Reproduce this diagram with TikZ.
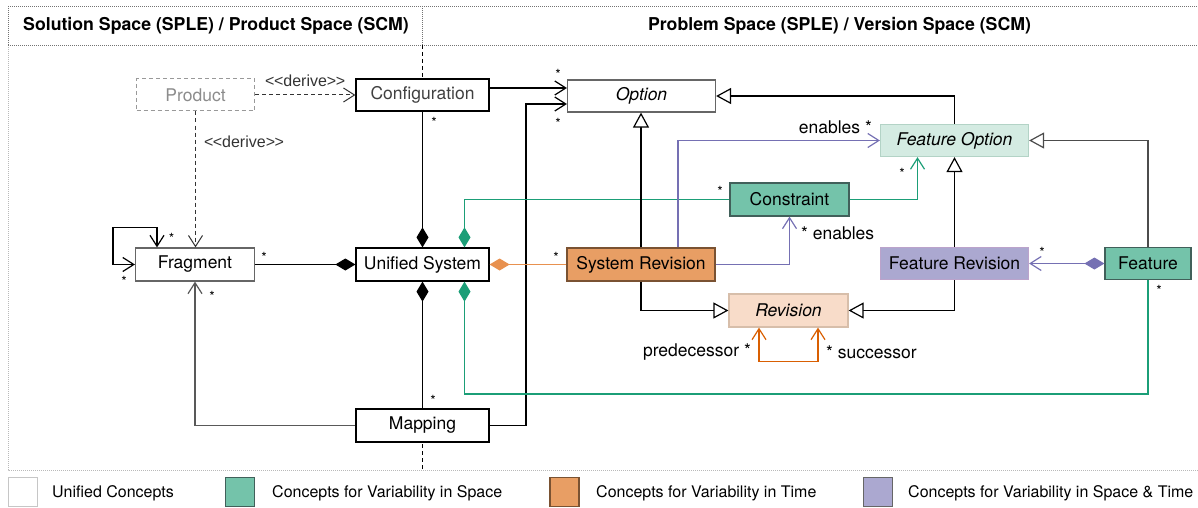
\documentclass[tikz,border=0pt]{standalone}
\usepackage{fontspec}
\setmainfont{TeX Gyre Heros}
\newfontfamily\myArial{Liberation Sans}
\usetikzlibrary{arrows.meta,calc}
\definecolor{tealline}{HTML}{1B9E77}
\definecolor{tealfill}{HTML}{74C3AA}
\definecolor{tealborder}{HTML}{41605A}
\definecolor{fofill}{HTML}{D4EBE2}
\definecolor{foborder}{HTML}{B3D3C6}
\definecolor{orfill}{HTML}{E89E64}
\definecolor{orborder}{HTML}{7A5232}
\definecolor{orline}{HTML}{E8914F}
\definecolor{orloop}{HTML}{D95F02}
\definecolor{revfill}{HTML}{F8DCC9}
\definecolor{revborder}{HTML}{D7BEAA}
\definecolor{puline}{HTML}{7570B3}
\definecolor{pufill}{HTML}{ABA8D0}
\definecolor{puborder}{HTML}{BBA3CB}
\newcommand\myNodeFont{\fontsize{17.5}{20}\selectfont}
\newcommand\myHdrFont{\fontsize{17.7}{20}\selectfont\bfseries}
\newcommand\myLegFont{\fontsize{16}{19}\selectfont}
\newcommand\myMulFont{\fontsize{14}{16}\selectfont}
\newcommand\myLblFont{\myArial\fontsize{16}{19}\selectfont}
\newcommand\myDerive{\mbox{<}\kern-0.5pt\mbox{<}derive\mbox{>}\kern-0.5pt\mbox{>}}
\tikzset{
  base/.style={draw, inner sep=0pt, line width=1.2pt, font=\myNodeFont, fill=white},
  wbox/.style={base, draw=black},
  barb/.tip={Straight Barb[length=11pt,width=14pt]},
  gen/.tip={Triangle[open,length=15pt,width=16pt,fill=white]},
  dia/.tip={Diamond[length=20pt,width=12pt]},
  conn/.style={line width=1.2pt},
  mul/.style={font=\myMulFont, inner sep=0pt},
  lbl/.style={font=\myNodeFont, inner sep=0pt},
  framel/.style={draw=gray!55, line width=0.9pt, dash pattern=on 1pt off 1pt},
  headl/.style={draw=gray!90!black, line width=0.9pt, dash pattern=on 1pt off 1pt},
  legbox/.style={draw, line width=1.2pt, minimum width=29pt, minimum height=29.5pt, inner sep=0pt},
  legtxt/.style={font=\myLegFont, anchor=west, inner sep=0pt},
}
\begin{document}
\begin{tikzpicture}[x=1pt,y=-1pt]
\useasboundingbox (0,0) rectangle (1198,508);
% frame
\draw[framel] (8,45) -- (8,470) -- (1198,470);
\draw[headl] (8,6) -- (1198,6);
\draw[headl] (8,45) -- (1198,45);
\draw[headl] (8,6) -- (8,45);
\draw[headl] (422.5,6) -- (422.5,45);
\draw[line width=1pt, dash pattern=on 4pt off 3pt] (422.5,45) -- (422.5,470);
\node[font=\myHdrFont, inner sep=0pt] (h1) at (216,25.5) {Solution Space (SPLE) / Product Space (SCM)};
\node[font=\myHdrFont, inner sep=0pt] (h2) at (839.5,25.5) {Problem Space (SPLE) / Version Space (SCM)};

% nodes
\node[base, draw=gray!80, text=gray!90, dash pattern=on 4pt off 3pt, line width=1pt, minimum width=118pt, minimum height=32pt] (product) at (195.5,95) {Product};
\node[wbox, text=black!75, minimum width=133pt, minimum height=32pt] (config) at (422.5,95) {Configuration};
\node[base, draw=black!60, minimum width=148pt, minimum height=32pt, font=\myNodeFont\itshape] (option) at (641.5,96) {Option};
\node[base, draw=foborder, fill=fofill, minimum width=148pt, minimum height=32pt, font=\myNodeFont\itshape] (fopt) at (954.5,140.5) {Feature Option};
\node[base, draw=tealborder, fill=tealfill, minimum width=119pt, minimum height=33pt] (constraint) at (789.5,199.5) {Constraint};
\node[base, draw=black!60, minimum width=119pt, minimum height=33pt] (fragment) at (195,264.5) {Fragment};
\node[wbox, minimum width=133pt, minimum height=33pt] (usys) at (422.5,264.5) {Unified System};
\node[base, draw=orborder, fill=orfill, minimum width=148pt, minimum height=33pt] (srev) at (641,264.5) {System Revision};
\node[base, draw=puborder, fill=pufill, minimum width=148pt, minimum height=32pt] (frev) at (954.5,263.5) {Feature Revision};
\node[base, draw=tealborder, fill=tealfill, minimum width=86pt, minimum height=32pt] (feature) at (1148,263.5) {Feature};
\node[base, draw=revborder, fill=revfill, minimum width=119pt, minimum height=33pt, font=\myNodeFont\itshape] (revision) at (788.5,310.5) {Revision};
\node[wbox, minimum width=133pt, minimum height=33pt] (mapping) at (422.5,425.5) {Mapping};

% derive
\draw[conn, line width=1pt, black!80, dash pattern=on 4pt off 3pt, -{barb}] (product.east) -- (config.west)
  node[midway, above=8pt, font=\myLblFont, inner sep=0pt] {\myDerive};
\draw[conn, line width=1pt, black!80, dash pattern=on 4pt off 3pt, -{barb}] (product.south) -- (product.south |- fragment.north)
  node[pos=0.22, right=8pt, font=\myLblFont, inner sep=0pt] {\myDerive};

% fragment self loop
\draw[conn, {barb}-{barb}] ($(fragment.north)+(-38,0)$) -- ++(0,-20) -| ($(fragment.west)+(-22,0)$) -- (fragment.west);
\node[mul] at (171.5,238) {*};
\node[mul] at (124,281) {*};

% compositions to unified system
\draw[conn, {dia}-] (usys.west) -- (fragment.east);
\node[mul] at (264,257) {*};
\draw[conn, {dia}-] (usys.north) -- (config.south);
\node[mul] at (434,122) {*};
\draw[conn, {dia}-] (usys.south) -- (mapping.north);
\node[mul] at (433,400) {*};

% configuration / mapping -> option
\draw[conn, -{barb}] (config.east |- 0,88) -- (option.west |- 0,88);
\node[mul] at (558,74) {*};
\coordinate (mo) at (526,104);
\draw[conn, -{barb}] (mapping.east) -| (mo) -- (option.west |- mo);
\node[mul] at (558,123) {*};

% mapping -> fragment
\draw[conn, black!65, -{barb}] (mapping.west) -| (fragment.south);
\node[mul] at (212,296) {*};

% unified system -- system revision
\draw[conn, orline, {dia}-] (usys.east) -- (srev.west);
\node[mul] at (556,257) {*};

% unified system -- constraint / feature (teal)
\draw[conn, tealline, {dia}-] ($(usys.north)+(42,0)$) |- (constraint.west);
\node[mul] at (720,191) {*};
\coordinate (tb) at (0,394);
\draw[conn, tealline, {dia}-] ($(usys.south)+(42,0)$) |- (tb -| feature.south) -- (feature.south);
\node[mul] at (1159,290) {*};

% generalizations
\draw[conn, -{gen}] (srev.north) -- (srev.north |- option.south);
\draw[conn, -{gen}] (srev.south) |- (revision.west);
\draw[conn, -{gen}] (fopt.north) |- (option.east);
\draw[conn, -{gen}] (frev.north) -- (fopt.south);
\draw[conn, -{gen}] (frev.south) |- (revision.east);
\draw[conn, black!70, -{gen}] (feature.north) |- (fopt.east);

% purple associations
\draw[conn, puline, -{barb}] ($(srev.north)+(37,0)$) |- (fopt.west);
\node[lbl, anchor=east] at (872,127) {enables *};
\draw[conn, puline, -{barb}] (srev.east) -| (constraint.south);
\node[lbl, anchor=west] at (801,233) {* enables};
\draw[conn, puline, {dia}-{barb}] (feature.west) -- (frev.east);
\node[mul] at (1042,252) {*};

% constraint -> feature option
\draw[conn, tealline, -{barb}] (constraint.east) -| ($(fopt.south)+(-37,0)$);
\node[mul] at (902,173) {*};

% revision self loop
\draw[conn, orloop, {barb}-{barb}] ($(revision.south)+(-29.5,0)$) -- ++(0,34) -| ($(revision.south)+(29.5,0)$);
\node[lbl, anchor=east] at (751,352) {predecessor *};
\node[lbl, anchor=west] at (826,352) {* successor};

% legend
\node[legbox, draw=gray!45, fill=white] (lg1) at (23,492) {};
\node[legtxt] (lt1) at (52,493) {Unified Concepts};
\node[legbox, draw=tealborder, fill=tealfill] (lg2) at (240,492) {};
\node[legtxt] (lt2) at (272,493) {Concepts for Variability in Space};
\node[legbox, draw=orborder, fill=orfill] (lg3) at (564.5,492) {};
\node[legtxt] (lt3) at (596,493) {Concepts for Variability in Time};
\node[legbox, draw=black!60, fill=pufill] (lg4) at (878,492) {};
\node[legtxt] (lt4) at (908,493) {Concepts for Variability in Space \& Time};
\end{tikzpicture}
\end{document}
